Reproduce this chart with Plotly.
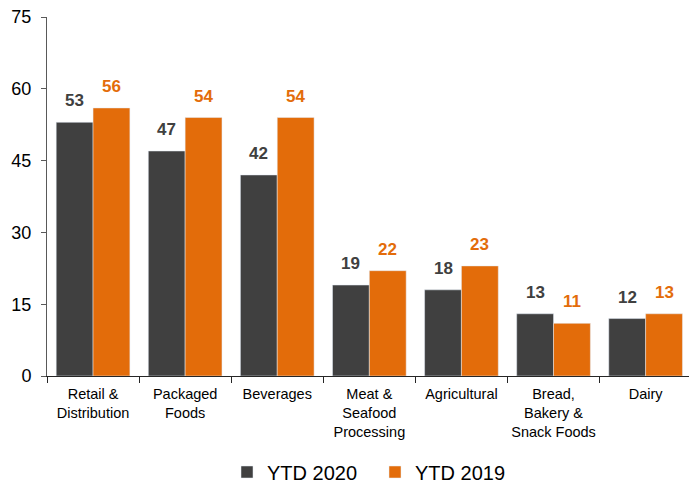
import plotly.graph_objects as go

categories = ["Retail &<br>Distribution", "Packaged<br>Foods", "Beverages",
              "Meat &<br>Seafood<br>Processing", "Agricultural",
              "Bread,<br>Bakery &<br>Snack Foods", "Dairy"]
ytd2020 = [53, 47, 42, 19, 18, 13, 12]
ytd2019 = [56, 54, 54, 22, 23, 11, 13]
yticks = [0, 15, 30, 45, 60, 75]

DARK = "#404040"
ORANGE = "#E36C0A"
FONT = "Liberation Sans, Arial, sans-serif"

W, H = 689, 483

fig = go.Figure()
fig.add_trace(go.Bar(x=categories, y=ytd2020, name="YTD 2020", marker_color=DARK))
fig.add_trace(go.Bar(x=categories, y=ytd2019, name="YTD 2019", marker_color=ORANGE))

annotations = []
for vals, color, shift in [(ytd2020, DARK, -18.4), (ytd2019, ORANGE, 18.4)]:
    for c, v in zip(categories, vals):
        annotations.append(dict(x=c, y=v, xref="x", yref="y", text=str(v),
                                showarrow=False, xshift=shift, yshift=10,
                                yanchor="bottom",
                                font=dict(family=FONT, size=17, color=color, weight="bold")))

fig.update_layout(
    width=W, height=H,
    margin=dict(l=47, r=0, t=17, b=107),
    paper_bgcolor="white", plot_bgcolor="white",
    barmode="group", bargap=0.2, bargroupgap=0,
    font=dict(family=FONT, color="#000000"),
    annotations=annotations,
    legend=dict(orientation="h", xref="container", yref="container",
                x=227 / W, xanchor="left",
                y=(H - 472) / H, yanchor="middle",
                font=dict(family=FONT, size=20, color="#000000"),
                itemwidth=30, entrywidth=103, entrywidthmode="pixels",
                tracegroupgap=0),
    xaxis=dict(showline=True, linecolor="#262626", linewidth=1, automargin=False,
               range=[-0.5, 6.471],
               ticks="outside", tickson="boundaries", ticklen=6, tickcolor="#262626",
               tickangle=0, ticklabelstandoff=5,
               tickfont=dict(family=FONT, size=14.5, color="#000000"),
               showgrid=False),
    yaxis=dict(range=[0, 75], tickvals=yticks, showline=True, linecolor="#595959",
               linewidth=1, ticks="outside", ticklen=5, tickcolor="#595959",
               automargin=False, ticklabelstandoff=6,
               tickfont=dict(family=FONT, size=18, color="#000000"),
               showgrid=False, zeroline=False),
)

fig.write_html("out.html", config={"displayModeBar": False},
               post_script="document.body.style.margin='0';document.body.style.padding='0';"
                           "document.documentElement.style.overflow='hidden';")
